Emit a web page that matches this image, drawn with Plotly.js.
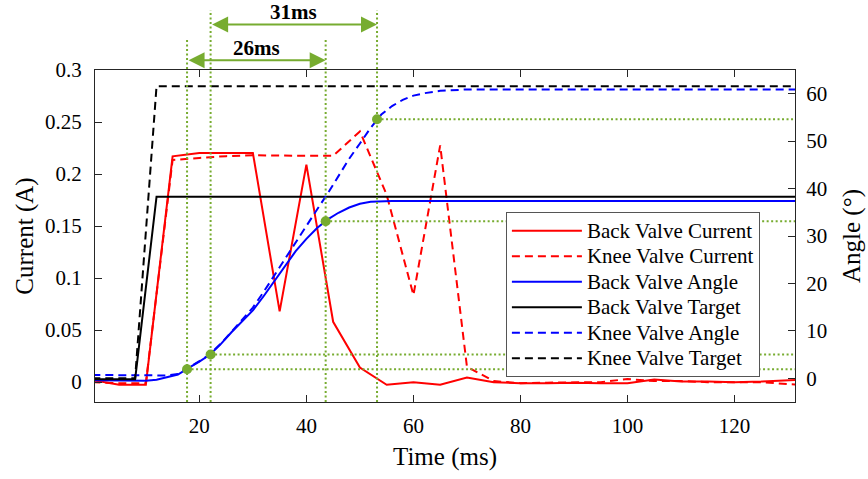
<!DOCTYPE html>
<html>
<head>
<meta charset="utf-8">
<script src="https://cdn.plot.ly/plotly-3.0.1.min.js"></script>
<style>html,body{margin:0;padding:0;background:#fff;}#chart{width:868px;height:479px;}</style>
</head>
<body>
<div id="chart"></div>
<script>
// ---- data ----
const timeCurrent = [0,5,10,15,20,25,30,35,40,45,50,55,60,65,70,75,80,85,90,95,100,105,110,115,120,125,130,135];
const backValveCurrent = [0.002,-0.0025,-0.0025,0.217,0.2203,0.2203,0.2203,0.068,0.209,0.058,0.014,-0.0025,0.0,-0.0025,0.0045,0.0,-0.001,-0.001,-0.0005,-0.001,-0.001,0.0025,0.0005,0.0005,0.0,0.0005,0.002,0.003];
const kneeValveCurrent = [0.0,-0.001,-0.001,0.2135,0.2155,0.2172,0.218,0.2175,0.2175,0.2175,0.241,0.18,0.0836,0.2276,0.0148,0.001,-0.001,-0.0005,0.0,0.0,0.003,0.001,0.001,0.0,0.0,0.0,-0.002,-0.003];

const timeAngle = [0,5,10,12,14,16,18,20,22,24,26,28,30,32,34,36,38,40,42,44,46,48,50,52,54,56,58,60,62,65,70,80,90,100,110,120,130,135];
const backValveAngle = [-0.4,-0.5,-0.5,-0.3,0.2,0.8,2.2,3.5,5.0,7.2,9.7,12.0,14.3,17.3,20.5,23.8,26.8,29.4,31.7,33.5,34.9,36.0,36.8,37.2,37.35,37.4,37.4,37.4,37.4,37.4,37.4,37.4,37.4,37.4,37.4,37.4,37.4,37.4];
const kneeValveAngle = [0.7,0.7,0.7,0.6,0.6,0.9,2.2,3.6,5.1,7.3,9.8,12.3,14.9,18.2,21.7,25.2,28.8,32.3,35.6,39.0,42.6,46.3,49.5,52.8,55.6,57.4,58.7,59.6,60.1,60.6,60.9,60.9,60.9,60.9,60.9,60.9,60.9,60.9];

const timeTarget = [0,8,12,135];
const backValveTarget = [-0.2,-0.2,38.3,38.3];
const kneeValveTarget = [0,0,61.6,61.6];

// rise-time markers (time ms, angle deg)
const markerTime = [17.7,22.1,43.6,53.2];
const markerAngle = [1.9,5.0,33.1,54.6];
const intervalLabels = ['26ms','31ms'];

const seriesNames = ['Back Valve Current','Knee Valve Current','Back Valve Angle','Back Valve Target','Knee Valve Angle','Knee Valve Target'];

const currentTicks = [0,0.05,0.1,0.15,0.2,0.25,0.3];
const currentTickText = ['0','0.05','0.1','0.15','0.2','0.25','0.3'];
const angleTicks = [0,10,20,30,40,50,60];
const timeTicks = [20,40,60,80,100,120];

// ---- styling ----
const FONT = "'Liberation Serif', 'Times New Roman', serif";
const GREEN = '#77AC30';
const AXC = '#262626';
const DASH = '8px,5px';
const XR = [0.5, 131.3];
const nm = s => '<span style="font-size:21px">' + s + '</span>';

const traces = [
  {x: timeCurrent, y: backValveCurrent, name: nm(seriesNames[0]), mode: 'lines', yaxis: 'y',
   line: {color: '#FF0000', width: 2}},
  {x: timeCurrent, y: kneeValveCurrent, name: nm(seriesNames[1]), mode: 'lines', yaxis: 'y',
   line: {color: '#FF0000', width: 2, dash: DASH}},
  {x: timeAngle, y: backValveAngle, name: nm(seriesNames[2]), mode: 'lines', yaxis: 'y2',
   line: {color: '#0000FF', width: 2}},
  {x: timeTarget, y: backValveTarget, name: nm(seriesNames[3]), mode: 'lines', yaxis: 'y2',
   line: {color: '#000000', width: 2}},
  {x: timeAngle, y: kneeValveAngle, name: nm(seriesNames[4]), mode: 'lines', yaxis: 'y2',
   line: {color: '#0000FF', width: 2, dash: DASH}},
  {x: timeTarget, y: kneeValveTarget, name: nm(seriesNames[5]), mode: 'lines', yaxis: 'y2',
   line: {color: '#000000', width: 2, dash: DASH}},
  {x: markerTime, y: markerAngle, mode: 'markers', yaxis: 'y2', showlegend: false, hoverinfo: 'skip',
   marker: {color: GREEN, size: 10}}
];

// guide lines from markers
const shapes = [];
const vTops = [1.098, 1.18, 1.098, 1.18];
markerTime.forEach((t, i) => {
  shapes.push({type: 'line', xref: 'x', yref: 'paper', x0: t, x1: t, y0: 0, y1: vTops[i],
    line: {color: GREEN, width: 2, dash: '2px,2.5px'}, layer: 'above'});
  shapes.push({type: 'line', xref: 'x', yref: 'y2', x0: t, x1: XR[1], y0: markerAngle[i], y1: markerAngle[i],
    line: {color: GREEN, width: 2, dash: '2px,2.5px'}, layer: 'above'});
});

const arrowY = [1.029, 1.137];
const labelY = [1.066, 1.175];
const annotations = [];
[[0,2],[1,3]].forEach((pair, k) => {
  const a = markerTime[pair[0]], b = markerTime[pair[1]];
  annotations.push({x: b, y: arrowY[k], xref: 'x', yref: 'paper', axref: 'x', ayref: 'pixel',
    ax: a, ay: 0, text: '', showarrow: true, arrowhead: 2, arrowside: 'end+start',
    arrowsize: 1.6, arrowwidth: 2, arrowcolor: GREEN});
  annotations.push({x: (a + b) / 2, y: labelY[k], xref: 'x', yref: 'paper', text: '<b>' + intervalLabels[k] + '</b>',
    showarrow: false, font: {family: FONT, size: 21, color: '#000'}, yanchor: 'middle'});
});

const layout = {
  width: 868, height: 479,
  margin: {l: 95, r: 73, t: 70, b: 77},
  paper_bgcolor: '#fff', plot_bgcolor: '#fff',
  font: {family: FONT, color: '#000', size: 21},
  showlegend: true,
  legend: {x: 0.587, y: 0.572, xanchor: 'left', yanchor: 'top', bgcolor: '#fff',
    bordercolor: '#555', borderwidth: 1, font: {family: FONT, size: 17.3, color: '#000'},
    itemwidth: 70, tracegroupgap: 0},
  xaxis: {range: XR, tickvals: timeTicks, ticks: 'inside', ticklen: 7, tickcolor: AXC,
    showline: true, linecolor: AXC, linewidth: 1, mirror: 'ticks', showgrid: false, zeroline: false,
    tickfont: {family: FONT, size: 21}, ticklabelstandoff: 5,
    title: {text: 'Time (ms)', font: {family: FONT, size: 25}, standoff: 10}},
  yaxis: {range: [-0.0191, 0.3], tickvals: currentTicks, ticktext: currentTickText, ticks: 'inside', ticklen: 7,
    tickcolor: AXC, showline: true, linecolor: AXC, linewidth: 1, showgrid: false, zeroline: false,
    tickfont: {family: FONT, size: 21}, ticklabelstandoff: 8,
    title: {text: 'Current (A)', font: {family: FONT, size: 25}, standoff: 4}},
  yaxis2: {range: [-5, 65], overlaying: 'y', side: 'right', tickvals: angleTicks, ticks: 'inside', ticklen: 7,
    tickcolor: AXC, showline: true, linecolor: AXC, linewidth: 1, showgrid: false, zeroline: false,
    tickfont: {family: FONT, size: 21}, ticklabelstandoff: 6,
    title: {text: 'Angle (°)', font: {family: FONT, size: 25}, standoff: 16}},
  shapes: shapes,
  annotations: annotations
};

Plotly.newPlot('chart', traces, layout, {staticPlot: true, displayModeBar: false});
</script>
</body>
</html>
